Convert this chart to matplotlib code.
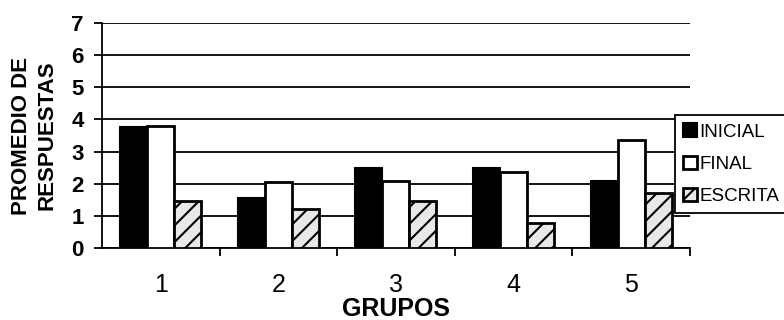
import numpy as np
import matplotlib.pyplot as plt
from matplotlib.patches import Patch

plt.rcParams['font.family'] = ['Liberation Sans', 'DejaVu Sans']
plt.rcParams['hatch.linewidth'] = 1.5

grupos = ['1', '2', '3', '4', '5']
inicial = [3.77, 1.57, 2.5, 2.5, 2.07]
final = [3.8, 2.05, 2.1, 2.35, 3.35]
escrita = [1.45, 1.22, 1.45, 0.78, 1.7]

x = np.arange(1, len(grupos) + 1)
w = 0.23

fig = plt.figure(figsize=(7.84, 3.2), dpi=100)
ax = fig.add_axes([0.130, 0.225, 0.750, 0.703])

ax.bar(x - w, inicial, w, color='black', edgecolor='black', linewidth=1.5, zorder=3)
ax.bar(x, final, w, color='white', edgecolor='black', linewidth=2, zorder=3)
ax.bar(x + w, escrita, w, color='#e8e8e8', edgecolor='black', linewidth=2,
       hatch='//', zorder=3)

ax.set_xlim(0.5, 5.5)
ax.set_ylim(0, 7)
ax.set_yticks(range(0, 8))
ax.yaxis.grid(True, color='black', linewidth=1.3, zorder=0)
ax.set_axisbelow(True)

for s in ['top', 'right']:
    ax.spines[s].set_visible(False)
ax.spines['left'].set_linewidth(1.3)
ax.spines['bottom'].set_linewidth(1.3)

ax.set_xticks(x)
ax.set_xticklabels(grupos, fontsize=18)
ax.set_xticks(np.arange(1.5, 6.0, 1.0), minor=True)
ax.tick_params(axis='x', which='major', length=0, pad=18)
ax.tick_params(axis='x', which='minor', length=6, width=1.3, direction='out')
ax.tick_params(axis='y', length=6, width=1.3, labelsize=16, pad=7)
for lab in ax.get_yticklabels():
    lab.set_fontweight('bold')

ax.set_xlabel('GRUPOS', fontsize=18, fontweight='bold', labelpad=0)
ax.set_ylabel('PROMEDIO DE\nRESPUESTAS', fontsize=16, fontweight='bold',
              linespacing=1.25, labelpad=10)

handles = [
    Patch(facecolor='black', edgecolor='black', linewidth=1.5),
    Patch(facecolor='white', edgecolor='black', linewidth=2),
    Patch(facecolor='#e8e8e8', edgecolor='black', linewidth=2, hatch='//'),
]
leg = fig.legend(handles, ['INICIAL', 'FINAL', 'ESCRITA'], loc='center left',
                 bbox_to_anchor=(0.861, 0.487), fontsize=13.5, frameon=True,
                 fancybox=False, edgecolor='black', framealpha=1,
                 handlelength=0.7, handleheight=0.7, handletextpad=0.15,
                 labelspacing=0.8, borderpad=0.45, borderaxespad=0)
leg.get_frame().set_linewidth(1.3)

fig.savefig('out.png', dpi=100)
